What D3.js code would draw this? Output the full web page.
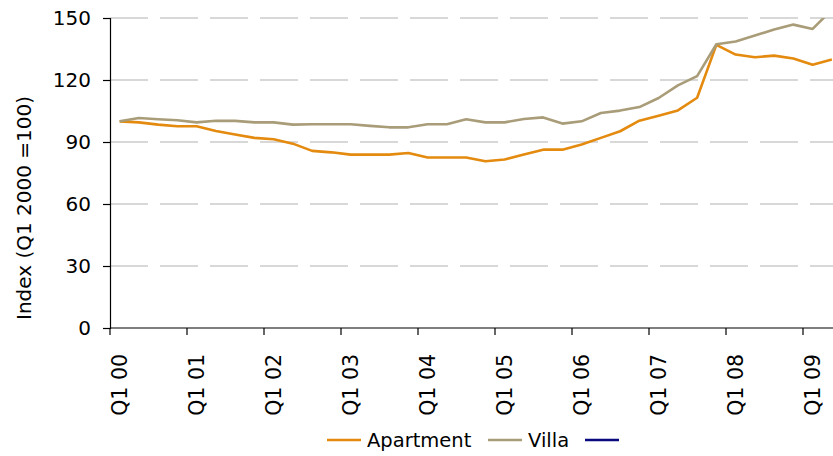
<!DOCTYPE html>
<html>
<head>
<meta charset="utf-8">
<script src="https://cdn.jsdelivr.net/npm/d3@7"></script>
<style>
  body { margin: 0; background: #fff; }
  svg { display: block; font-family: "DejaVu Sans", sans-serif; }
</style>
</head>
<body>
<svg id="chart" width="833" height="456"></svg>
<script>
const width = 833;
const height = 456;

const years = ["00", "01", "02", "03", "04", "05", "06", "07", "08", "09"];
const quarters = [];
years.forEach(y => ["Q1", "Q2", "Q3", "Q4"].forEach(q => quarters.push(q + " " + y)));
quarters.splice(38);

const apartment = [
  100, 99.5, 98.4, 97.6, 97.6, 95.3, 93.6, 92.0, 91.3, 89.2,
  85.7, 85.0, 83.9, 83.9, 83.9, 84.7, 82.5, 82.5, 82.5, 80.7,
  81.5, 83.9, 86.3, 86.3, 88.8, 92.0, 95.2, 100.3, 102.7, 105.3,
  111.4, 137.0, 132.3, 131.0, 131.8, 130.4, 127.4, 129.9
];
const villa = [
  100, 101.6, 101.0, 100.5, 99.5, 100.3, 100.2, 99.5, 99.5, 98.4,
  98.6, 98.6, 98.6, 97.8, 97.1, 97.1, 98.6, 98.6, 101.0, 99.5,
  99.5, 101.1, 101.9, 98.9, 100.0, 104.0, 105.2, 106.9, 111.3, 117.4,
  121.9, 137.3, 138.6, 141.5, 144.4, 146.8, 144.7, 154.0
];
const yTicks = [0, 30, 60, 90, 120, 150];

const series = [
  { name: "Apartment", color: "#E38A0F", values: apartment },
  { name: "Villa", color: "#A99C78", values: villa },
  { name: "", color: "#0A0A80", values: [] }
];

const margin = { left: 110, top: 18, bottom: 328 };
const step = 19.25;

const svg = d3.select("#chart");

const x = d3.scaleBand()
  .domain(quarters)
  .range([margin.left, margin.left + quarters.length * step])
  .padding(0);

const y = d3.scaleLinear()
  .domain([0, 150])
  .range([margin.bottom, margin.top]);

svg.append("clipPath")
  .attr("id", "plot-clip")
  .append("rect")
  .attr("x", margin.left)
  .attr("y", margin.top)
  .attr("width", width - margin.left)
  .attr("height", margin.bottom - margin.top);

// dashed gridlines
svg.append("g")
  .selectAll("line")
  .data(yTicks.filter(d => d > 0))
  .enter()
  .append("line")
  .attr("x1", margin.left)
  .attr("x2", width)
  .attr("y1", d => y(d))
  .attr("y2", d => y(d))
  .attr("stroke", "#cccccc")
  .attr("stroke-width", 1.5)
  .attr("stroke-dasharray", "38,12");

// y axis
const yAxis = svg.append("g")
  .attr("transform", `translate(${margin.left},0)`)
  .call(d3.axisLeft(y).tickValues(yTicks).tickSize(7).tickPadding(12));
yAxis.select(".domain").attr("stroke", "#000").attr("stroke-width", 1.2);
yAxis.selectAll(".tick line").attr("stroke", "#000").attr("stroke-width", 1.2);
yAxis.selectAll("text")
  .attr("font-size", 20)
  .attr("fill", "#000")
  .attr("font-family", "DejaVu Sans, sans-serif");

// x axis
const q1s = quarters.filter(q => q.startsWith("Q1"));
const xAxis = svg.append("g")
  .attr("transform", `translate(0,${margin.bottom})`)
  .call(d3.axisBottom(x).tickValues(q1s).tickSize(0).tickPadding(0));
xAxis.select(".domain").attr("stroke", "#000").attr("stroke-width", 1.2)
  .attr("d", `M${margin.left},0H${width}`);
xAxis.selectAll("text")
  .attr("font-size", 20.5)
  .attr("fill", "#000")
  .attr("font-family", "DejaVu Sans, sans-serif")
  .attr("text-anchor", "end")
  .attr("transform", "rotate(-90)")
  .attr("x", -26)
  .attr("y", 0)
  .attr("dy", "0.36em");

svg.append("g")
  .selectAll("line")
  .data(q1s)
  .enter()
  .append("line")
  .attr("x1", d => x(d))
  .attr("x2", d => x(d))
  .attr("y1", margin.bottom)
  .attr("y2", margin.bottom + 7)
  .attr("stroke", "#000")
  .attr("stroke-width", 1.2);

// y axis title
svg.append("text")
  .attr("transform", "translate(31,208) rotate(-90)")
  .attr("text-anchor", "middle")
  .attr("font-size", 20)
  .attr("fill", "#000")
  .text("Index (Q1 2000 =100)");

// lines
const line = d3.line()
  .x((d, i) => x(quarters[i]) + x.bandwidth() / 2)
  .y(d => y(d));

svg.append("g")
  .attr("clip-path", "url(#plot-clip)")
  .selectAll("path")
  .data(series.filter(s => s.values.length))
  .enter()
  .append("path")
  .attr("d", d => line(d.values))
  .attr("fill", "none")
  .attr("stroke", d => d.color)
  .attr("stroke-width", 2.6)
  .attr("stroke-linejoin", "round");

// legend
const legendX = [327, 488, 585];
const legend = svg.append("g")
  .selectAll("g")
  .data(series)
  .enter()
  .append("g")
  .attr("transform", (d, i) => `translate(${legendX[i]},440)`);

legend.append("line")
  .attr("x1", 0)
  .attr("x2", 34)
  .attr("stroke", d => d.color)
  .attr("stroke-width", 2.6);

legend.append("text")
  .attr("x", 40)
  .attr("dy", "0.35em")
  .attr("font-size", 19.5)
  .attr("fill", "#000")
  .text(d => d.name);
</script>
</body>
</html>
